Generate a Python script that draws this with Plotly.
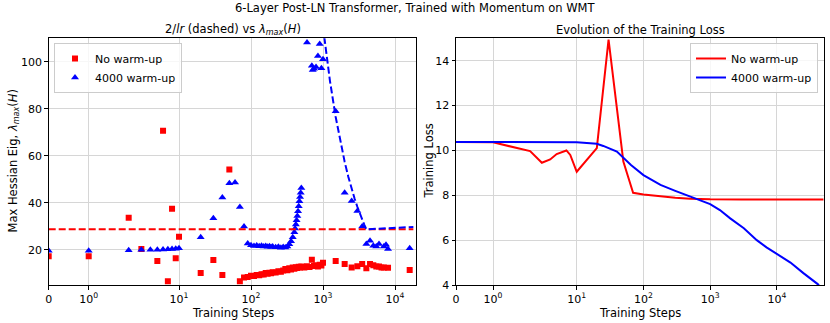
import numpy as np
import plotly.graph_objects as go

# --- left panel: max Hessian eigenvalue (steps, value) ---
nowarm_steps = [0, 1, 2, 3, 5, 6, 7, 8, 9, 10, 20, 30, 40, 50,
                70, 80, 90, 100, 110, 120, 130, 140, 150, 160, 170, 180, 190, 200,
                220, 240, 260, 280, 300, 320, 340, 360, 380, 400, 420, 440, 460, 480,
                500, 550, 600, 650, 700, 750, 800, 850, 900, 950, 1000,
                1500, 2000, 2500, 3000, 3500, 4000, 4500, 5000, 5500, 6000, 6500,
                7000, 8000, 16000]
nowarm_eig = [17.2, 17.2, 33.6, 20.3, 15.2, 70.7, 6.6, 37.5, 16.4, 25.5, 10.1, 15.6, 9.3, 54.2,
              6.6, 8.2, 8.4, 8.9, 8.8, 9.3, 9.2, 9.6, 9.5, 10.1, 9.8, 10.2, 10.0, 10.4,
              10.3, 10.9, 10.6, 11.2, 11.8, 11.3, 12.1, 11.6, 12.4, 11.9, 12.6, 12.2, 12.8, 12.4,
              12.9, 12.5, 13.0, 12.7, 15.8, 13.1, 13.4, 12.9, 13.6, 13.3, 14.5,
              15.2, 13.9, 12.5, 13.0, 13.9, 12.1, 13.9, 13.4, 12.9, 12.9, 12.5,
              12.5, 12.3, 11.4]

warm_steps = [0, 1, 2, 3, 4, 5, 6, 7, 8, 9, 10, 20, 30, 40, 50, 60, 70, 80,
              90, 100, 110, 120, 130, 140, 150, 160, 170, 180, 190, 200,
              220, 240, 260, 280, 300, 320, 340, 360, 380, 400, 410, 420, 430,
              440, 450, 460, 470, 480, 490, 500,
              600, 700, 720, 750, 800, 850, 900, 950, 1000,
              1500, 2000, 2500, 3000, 3500, 4000, 4500, 5000, 5500, 6000, 7000,
              7500, 8000, 16000]
warm_eig = [19.6, 19.6, 19.8, 20.0, 20.0, 20.0, 20.1, 20.2, 20.3, 20.4, 20.6, 25.3, 33.4, 42.2,
            48.3, 48.6, 38.2, 29.9,
            22.7, 21.9, 21.6, 21.8, 21.5, 21.7, 21.4, 21.6, 21.3, 21.5, 21.2, 21.4,
            21.1, 21.3, 20.9, 21.2, 21.0, 21.4, 22.3, 23.6, 25.3, 27.4, 29.0, 30.8, 32.6,
            34.4, 36.4, 38.5, 40.6, 42.5, 44.3, 46.3,
            108.2, 98.3, 96.5, 97.0, 97.8, 102.5, 107.6, 97.2, 101.1,
            78.9, 44.3, 40.8, 36.5, 29.9, 22.4, 23.8, 21.7, 21.4, 22.4, 21.4,
            22.1, 20.3, 20.6]

# 2/lr curves (dashed)
nowarm_lr_steps = [0, 18000]
nowarm_lr = [28.7, 28.7]
warm_lr_steps = [1000, 1100, 1250, 1500, 1750, 2000, 2250, 2500, 2750, 3000,
                 3250, 3500, 3750, 4000, 6000, 10000, 18000]
warm_lr = [114.8, 104.4, 91.8, 76.5, 65.6, 57.4, 51.0, 45.9, 41.7, 38.3,
           35.3, 32.8, 30.6, 28.7, 28.9, 29.2, 29.7]

# --- right panel: training loss ---
nowarm_loss_steps = [0, 1, 2, 3, 4, 5, 7, 8, 10, 20, 30, 50, 60, 70, 100, 200,
                     300, 500, 1000, 3000, 10000, 30000, 50000]
nowarm_loss = [10.38, 10.36, 9.97, 9.45, 9.6, 9.84, 10.0, 9.8, 9.05, 10.1, 14.94, 9.5,
               8.75, 8.11, 8.04, 7.93, 7.89, 7.85, 7.82, 7.81, 7.81, 7.81, 7.81]
warm_loss_steps = [0, 1, 10, 20, 25, 40, 65, 100, 180, 300, 550, 1000, 1400, 2000,
                   3200, 5000, 7000, 10000, 16000, 25000, 41000, 45000]
warm_loss = [10.38, 10.38, 10.37, 10.3, 10.2, 9.95, 9.35, 8.9, 8.46, 8.2, 7.92, 7.61,
             7.34, 6.97, 6.53, 6.0, 5.68, 5.38, 5.0, 4.53, 4.04, 3.9]

tick_steps = [0, 1, 10, 100, 1000, 10000]
tick_text = ["0", "10<sup>0</sup>", "10<sup>1</sup>", "10<sup>2</sup>",
             "10<sup>3</sup>", "10<sup>4</sup>"]


def symlog(steps, linthresh=2.0, linscale=1.0):
    # same mapping as matplotlib's symlog scale, in decades
    s = np.asarray(steps, dtype=float)
    a = linscale / (1 - 1 / 10)
    return np.where(s <= linthresh, s * a / linthresh,
                    a + np.log10(np.maximum(s, linthresh) / linthresh))


RED = "#ff0000"
BLUE = "#0000ff"
FONT = "DejaVu Sans"

fig = go.Figure()

fig.add_trace(go.Scatter(x=symlog(nowarm_steps), y=nowarm_eig, mode="markers",
                         name="No warm-up", marker=dict(symbol="square", size=6, color=RED)))
fig.add_trace(go.Scatter(x=symlog(warm_steps), y=warm_eig, mode="markers",
                         name="4000 warm-up", marker=dict(symbol="triangle-up", size=7, color=BLUE)))
fig.add_trace(go.Scatter(x=symlog(nowarm_lr_steps), y=nowarm_lr, mode="lines", showlegend=False,
                         line=dict(color=RED, width=2, dash="7px,3px")))
fig.add_trace(go.Scatter(x=symlog(warm_lr_steps), y=warm_lr, mode="lines", showlegend=False,
                         line=dict(color=BLUE, width=2, dash="7px,3px")))

fig.add_trace(go.Scatter(x=symlog(nowarm_loss_steps), y=nowarm_loss, mode="lines",
                         name="No warm-up", line=dict(color=RED, width=2),
                         xaxis="x2", yaxis="y2", legend="legend2"))
fig.add_trace(go.Scatter(x=symlog(warm_loss_steps), y=warm_loss, mode="lines",
                         name="4000 warm-up", line=dict(color=BLUE, width=2),
                         xaxis="x2", yaxis="y2", legend="legend2"))

axis_style = dict(showline=True, mirror=True, linecolor="black", linewidth=1,
                  ticks="outside", ticklen=3.5, tickcolor="black", automargin=False,
                  showgrid=True, gridcolor="#d6d6d6", gridwidth=1, zeroline=False,
                  tickfont=dict(family=FONT, size=11, color="black"))
title_font = dict(family=FONT, size=11.5, color="black")

xticks = dict(tickmode="array", tickvals=symlog(tick_steps), ticktext=tick_text)


def label(text, x, y, angle=0):
    return dict(text=text, x=x / 830, y=1 - y / 323, xref="paper", yref="paper",
                xanchor="center", yanchor="middle", showarrow=False, textangle=angle,
                font=title_font)


fig.update_layout(
    width=830, height=323, autosize=False,
    margin=dict(l=0, r=0, t=0, b=0),
    plot_bgcolor="white", paper_bgcolor="white",
    font=dict(family=FONT, size=11, color="black"),
    xaxis=dict(domain=[48.7 / 830, 416.3 / 830], range=[0, 5.106],
               **xticks, **axis_style),
    yaxis=dict(domain=[1 - 285 / 323, 1 - 38.3 / 323], range=[5, 110],
               tickvals=[20, 40, 60, 80, 100], **axis_style),
    xaxis2=dict(domain=[456 / 830, 824 / 830], range=[0, 5.517], anchor="y2",
                **xticks, **axis_style),
    yaxis2=dict(domain=[1 - 285 / 323, 1 - 38.3 / 323], range=[4, 15], anchor="x2",
                tickvals=[4, 6, 8, 10, 12, 14], **axis_style),
    legend=dict(x=54 / 830, y=1 - 43 / 323, xanchor="left", yanchor="top",
                bgcolor="rgba(255,255,255,0.8)", bordercolor="#cccccc", borderwidth=1,
                font=dict(family=FONT, size=11), tracegroupgap=0),
    legend2=dict(x=818 / 830, y=1 - 43 / 323, xanchor="right", yanchor="top",
                 bgcolor="rgba(255,255,255,0.8)", bordercolor="#cccccc", borderwidth=1,
                 font=dict(family=FONT, size=11), tracegroupgap=0),
    annotations=[
        label("6-Layer Post-LN Transformer, Trained with Momentum on WMT", 415, 8),
        label("2/<i>lr</i> (dashed) vs <i>λ</i><sub><i>max</i></sub>(<i>H</i>)", 232.5, 30),
        label("Evolution of the Training Loss", 640, 30),
        label("Training Steps", 232.5, 312.5),
        label("Training Steps", 640, 312.5),
        label("Max Hessian Eig, <i>λ</i><sub><i>max</i></sub>(<i>H</i>)", 13, 161.5, -90),
        label("Training Loss", 428, 161.5, -90),
    ],
)

# the page's default body margin would shift the figure by 8px
fig.write_html("out.html", config={"displayModeBar": False},
               post_script="document.body.style.margin='0';document.body.style.overflow='hidden';")
